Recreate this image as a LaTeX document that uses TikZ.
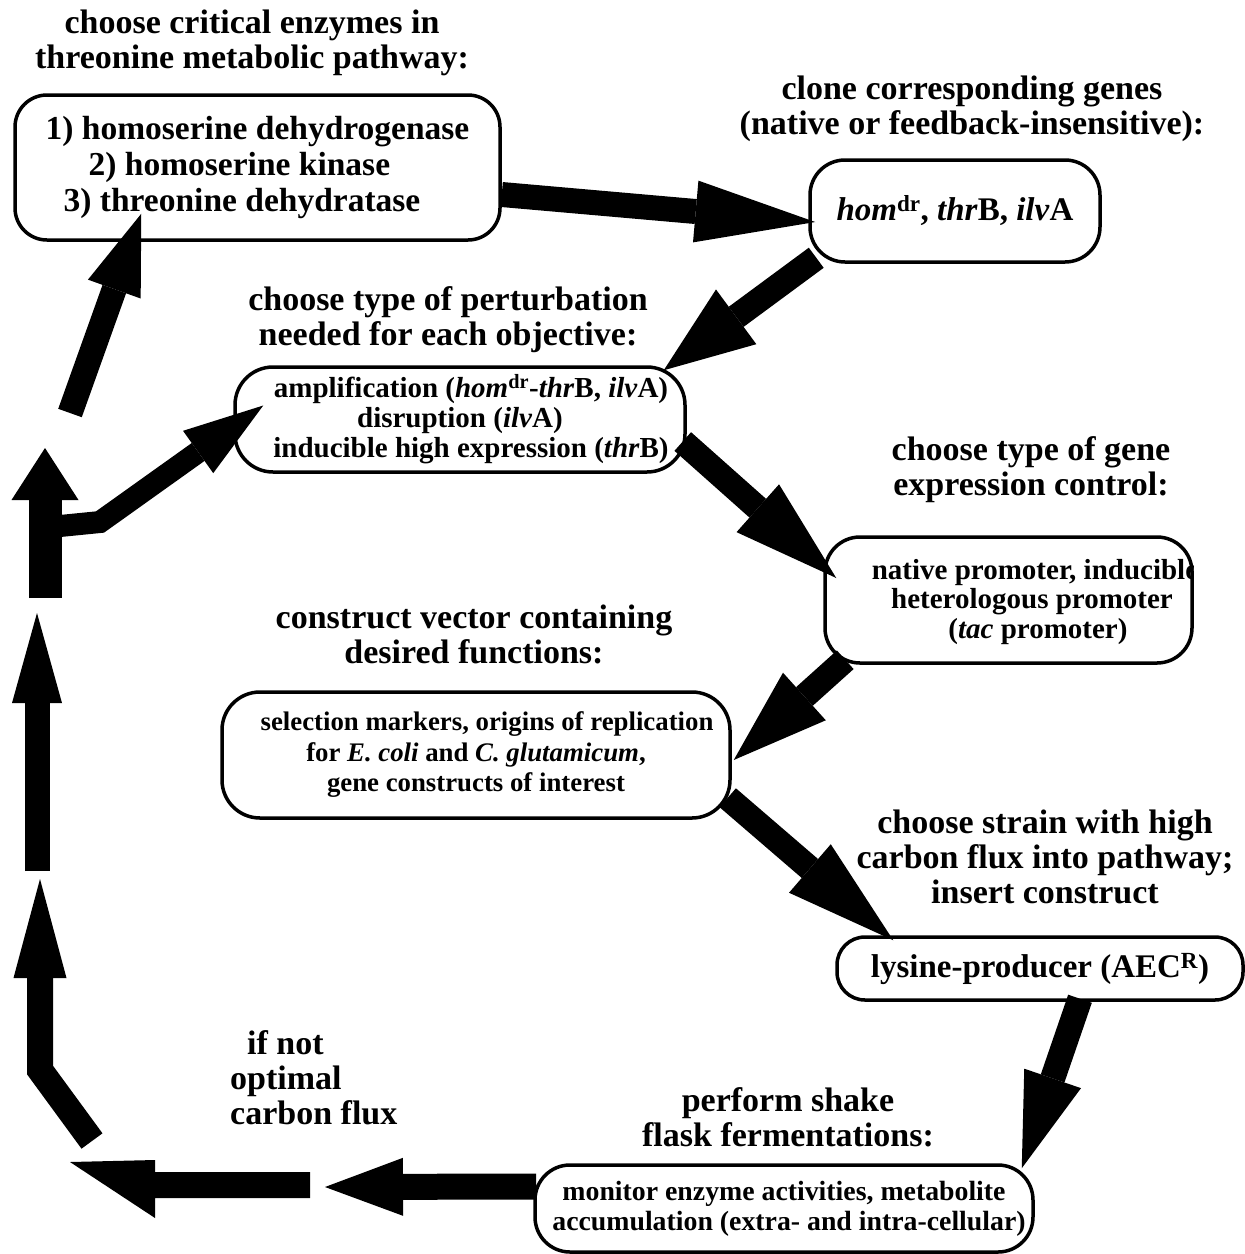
\documentclass[tikz,border=0pt]{standalone}
\usepackage{fontspec}
\setmainfont{Liberation Serif}
\usetikzlibrary{arrows.meta,calc}
\tikzset{
  box/.style={draw=black, line width=3.5pt, rounded corners=32pt, fill=white, inner sep=0pt, align=center},
  ttl/.style={inner sep=0pt, align=center, font=\fontsize{34}{35}\selectfont\bfseries},
  bigtip/.style 2 args={-{Triangle[length=#1pt,width=#2pt,line width=0pt]}},
}
\begin{document}
\begin{tikzpicture}[x=1pt,y=-1pt]
\useasboundingbox (0,0) rectangle (1245,1254);
\fill[white] (0,0) rectangle (1245,1254);

% titles
\node[ttl] (tA) at (252,43) {choose critical enzymes in\\threonine metabolic pathway:};
\node[ttl] (tB) at (972,109) {clone corresponding genes\\(native or feedback-insensitive):};
\node[ttl] (tC) at (448,320) {choose type of perturbation\\needed for each objective:};
\node[ttl] (tD) at (1031,469.5) {choose type of gene\\expression control:};
\node[ttl] (tE) at (474,634.5) {construct vector containing\\desired functions:};
\node[ttl] (tF) at (1045,857) {choose strain with high\\carbon flux into pathway;\\insert construct};
\node[ttl] (tG) at (788,1117.5) {perform shake\\flask fermentations:};
\node[ttl, align=left, anchor=west] (tH) at (230,1078) {\hspace*{17pt}if not\\optimal\\carbon flux};

% boxes
\node[box, minimum width=485pt, minimum height=145pt, align=left,
      font=\fontsize{33.5}{36}\selectfont\bfseries] (A) at (257.5,167.5)
  {1) homoserine dehydrogenase\\\hspace*{43pt}2) homoserine kinase\\\hspace*{18pt}3) threonine dehydratase};
\node[box, minimum width=290pt, minimum height=102pt, rounded corners=35pt,
      font=\fontsize{33}{36}\selectfont\bfseries] (B) at (955,211)
  {\textit{hom}\textsuperscript{dr}, \textit{thr}B, \textit{ilv}A};
\node[box, minimum width=450pt, minimum height=105pt, rounded corners=38pt,
      font=\fontsize{29}{30}\selectfont\bfseries] (C) at (460,419.5)
  {\hspace*{22pt}amplification (\textit{hom}\textsuperscript{dr}-\textit{thr}B, \textit{ilv}A)\\
   disruption (\textit{ilv}A)\hspace*{112pt}\\
   \hspace*{22pt}inducible high expression (\textit{thr}B)};
\node[box, minimum width=367pt, minimum height=126pt, rounded corners=35pt] (D) at (1008.5,600) {};
\begin{scope}
  \clip[rounded corners=35pt] (D.north west) rectangle (D.south east);
  \node[inner sep=0pt, align=center, font=\fontsize{29}{29.5}\selectfont\bfseries] (Dt) at (1032,602)
    {\hspace*{6pt}native promoter, inducible\\heterologous promoter\\\hspace*{12pt}(\textit{tac} promoter)};
\end{scope}
\node[box, minimum width=508pt, minimum height=126pt, rounded corners=38pt,
      font=\fontsize{26.8}{30.5}\selectfont\bfseries] (E) at (476,755)
  {\hspace*{22pt}selection markers, origins of replication\\for \textit{E. coli} and \textit{C. glutamicum},\\gene constructs of interest};
\node[box, minimum width=406pt, minimum height=63pt, rounded corners=28pt,
      font=\fontsize{33}{36}\selectfont\bfseries] (F) at (1040,968.5)
  {lysine-producer (AEC\textsuperscript{R})};
\node[box, minimum width=498pt, minimum height=87pt, rounded corners=35pt,
      font=\fontsize{27.8}{30}\selectfont\bfseries] (G) at (784,1208.5)
  {monitor enzyme activities, metabolite\\\hspace*{10pt}accumulation (extra- and intra-cellular)};

% main connectors
\draw[line width=25pt, bigtip={120}{62}] ($(A.east)+(0,27)$) -- ($(B.west)+(7,11)$);
\draw[line width=25pt, bigtip={90}{68}] ($(B.south west)+(8,-6)$) -- ($(C.north east)+(-23,5)$);
\draw[line width=25pt, bigtip={105}{64}] ($(C.east)+(-4,22)$) -- ($(D.west)+(13,-22)$);
\draw[line width=25pt, bigtip={95}{64}] ($(D.south west)+(22,-5)$) -- ($(E.east)+(2,5)$);
\draw[line width=25pt, bigtip={110}{64}] ($(E.south east)+(-4,-22)$) -- ($(F.north west)+(58,5)$);
\draw[line width=25pt, bigtip={95}{60}] ($(F.south)+(40,-3)$) -- ($(G.north east)+(-13,5)$);

% return loop
\coordinate (m1) at (325,1187);
\draw[line width=26pt, bigtip={78}{58}] ($(G.west)+(3,-22)$) -- (m1);
\coordinate (m2) at (310,1185);
\coordinate (m3) at (70,1162);
\fill[black] (m2) ++(0,-13) -- ++(-155,0) -- ++(0,-12) -- (m3) -- ++(85,56) -- ++(0,-20) -- ++(155,0) -- cycle;
\coordinate (m4) at (92,1141);
\coordinate (m5) at (40,1070);
\coordinate (m6) at (40,879);
\draw[line width=26pt, line join=miter, bigtip={99}{53}] (m4) -- (m5) -- (m6);
\coordinate (m7) at (37,871);
\coordinate (m8) at (37,613);
\draw[line width=25pt, bigtip={90}{50}] (m7) -- (m8);
\coordinate (m9) at (45,598);
\coordinate (m10) at (45,448);
\draw[line width=33pt, bigtip={52}{67}] (m9) -- (m10);
\coordinate (m11) at (50,527);
\coordinate (m11b) at (100,522);
\draw[line width=22pt, line join=miter, bigtip={80}{52}] (m11) -- (m11b) -- ($(C.west)+(30,-14)$);
\coordinate (m12) at (70,413);
\draw[line width=25pt, bigtip={80}{56}] (m12) -- ($(A.south west)+(128,-28)$);
\end{tikzpicture}
\end{document}
